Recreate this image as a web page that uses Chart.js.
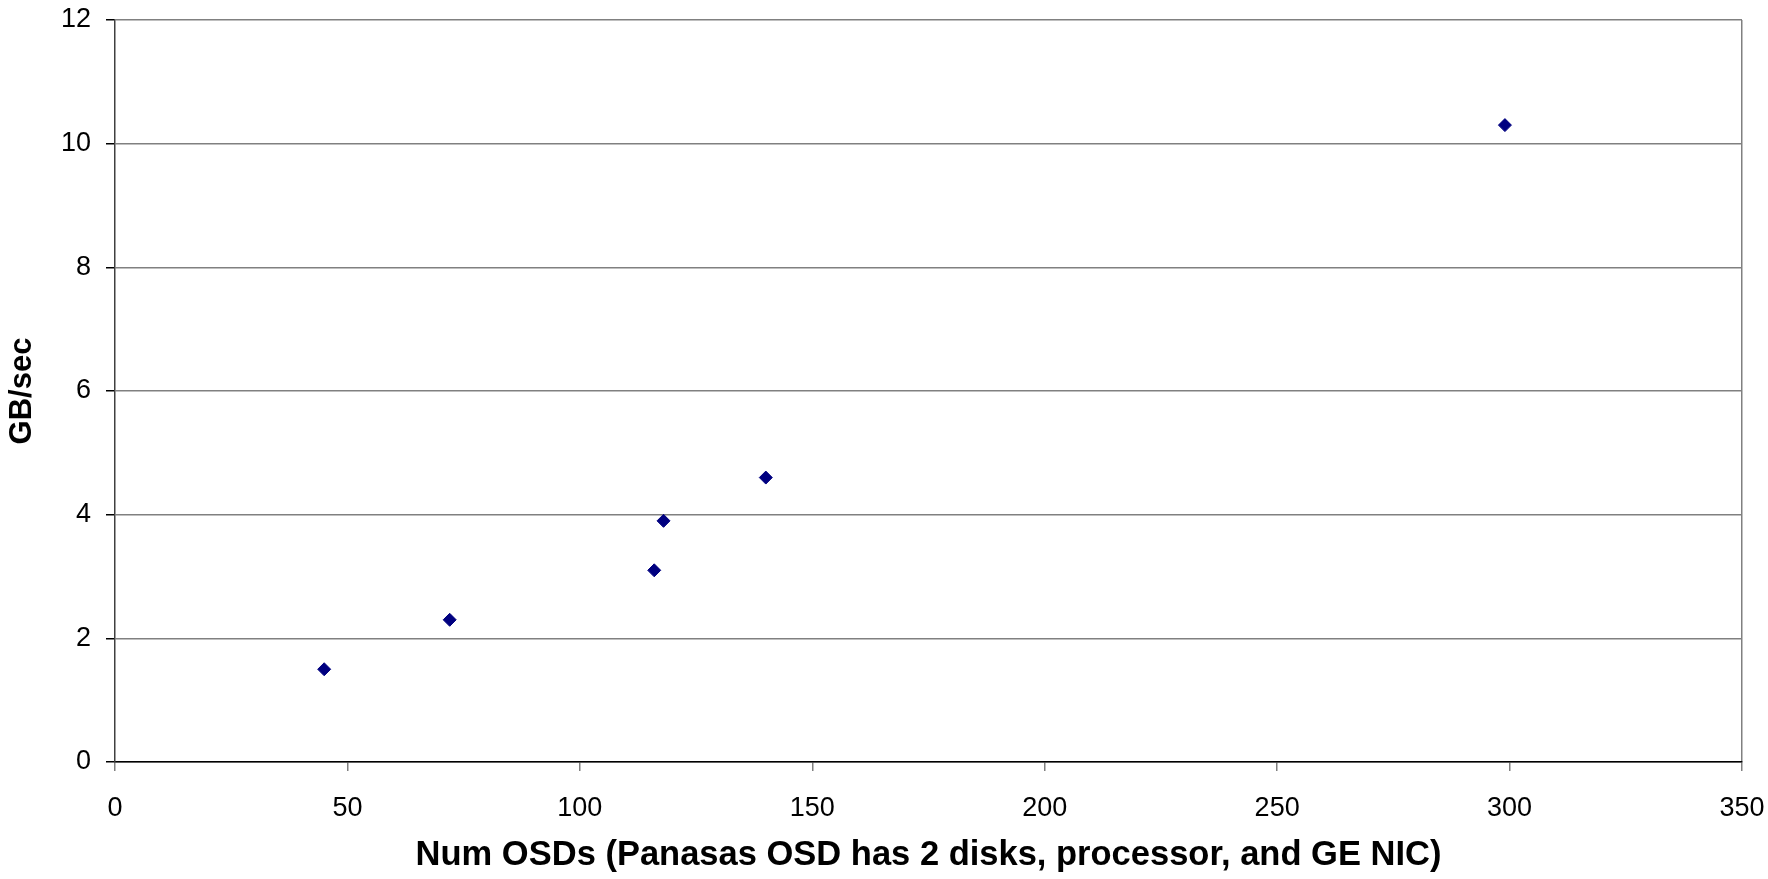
<!DOCTYPE html>
<html>
<head>
  <title>Num OSDs vs GB/sec</title>
  <script src="https://cdn.jsdelivr.net/npm/chart.js"></script>
  <style>
    body { margin: 0; background: #fff; }
    #wrap { width: 1768px; height: 879px; }
  </style>
</head>
<body>
  <div id="wrap">
    <canvas id="scatterChart" width="1768" height="879"></canvas>
  </div>

  <script>
    // values
    const numOSDs = [45, 72, 116, 118, 140, 299];
    const gbPerSec = [1.5, 2.3, 3.1, 3.9, 4.6, 10.3];
    const xTicks = [0, 50, 100, 150, 200, 250, 300, 350];
    const yTicks = [0, 2, 4, 6, 8, 10, 12];

    const points = numOSDs.map((x, i) => ({ x: x, y: gbPerSec[i] }));
    const fontFamily = '"Liberation Sans", Arial, sans-serif';

    new Chart(document.getElementById('scatterChart'), {
      type: 'scatter',
      data: {
        datasets: [{
          label: 'GB/sec',
          data: points,
          pointStyle: 'rectRot',
          pointRadius: 6.5,
          pointBorderWidth: 1,
          backgroundColor: '#000080',
          borderColor: '#000080'
        }]
      },
      options: {
        responsive: false,
        animation: false,
        layout: { padding: { top: 20, right: 26, left: 0, bottom: 0 } },
        plugins: {
          legend: { display: false },
          tooltip: { enabled: false }
        },
        scales: {
          x: {
            type: 'linear',
            min: xTicks[0],
            max: xTicks[xTicks.length - 1],
            afterBuildTicks: axis => { axis.ticks = xTicks.map(v => ({ value: v })); },
            afterFit: axis => {
              // fixed plot box like the original
              axis.height = 117;
              axis.paddingLeft = 0;
              axis.paddingRight = 0;
            },
            grid: {
              color: c => (c.tick && c.tick.value === 350) ? '#808080' : 'rgba(0,0,0,0)',
              tickColor: '#808080',
              tickLength: 9,
              lineWidth: 1.5
            },
            border: { color: '#000', width: 1.5 },
            ticks: {
              color: '#000',
              padding: 21,
              maxRotation: 0,
              font: { family: fontFamily, size: 27 }
            },
            title: {
              display: true,
              text: 'Num OSDs (Panasas OSD has 2 disks, processor, and GE NIC)',
              color: '#000',
              padding: { top: 0, bottom: 3 },
              font: { family: fontFamily, size: 34.5, weight: 'bold', lineHeight: 1.2 }
            }
          },
          y: {
            min: yTicks[0],
            max: yTicks[yTicks.length - 1],
            afterBuildTicks: axis => { axis.ticks = yTicks.map(v => ({ value: v })); },
            afterFit: axis => {
              axis.width = 115;
              axis.paddingTop = 0;
              axis.paddingBottom = 0;
            },
            grid: {
              color: '#808080',
              tickColor: '#000',
              tickLength: 9,
              lineWidth: 1.5
            },
            border: { color: '#404040', width: 1.5 },
            ticks: {
              color: '#000',
              padding: 15,
              font: { family: fontFamily, size: 27 }
            },
            title: {
              display: true,
              text: 'GB/sec',
              color: '#000',
              padding: { top: 4, bottom: 0 },
              font: { family: fontFamily, size: 31, weight: 'bold', lineHeight: 1.2 }
            }
          }
        }
      }
    });
  </script>
</body>
</html>
